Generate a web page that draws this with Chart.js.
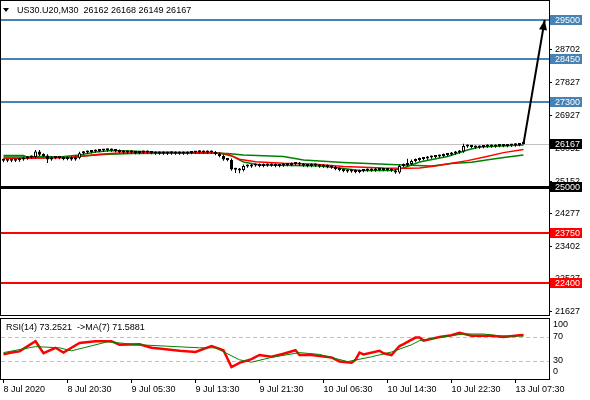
<!DOCTYPE html>
<html>
<head>
<meta charset="utf-8">
<script src="https://cdn.jsdelivr.net/npm/chart.js@4.4.1/dist/chart.umd.min.js"></script>
<style>
  html, body { margin: 0; padding: 0; background: #fff; }
  #wrap { position: relative; width: 590px; height: 400px; overflow: hidden; }
  #price { position: absolute; left: 0; top: 0; }
  #rsi { position: absolute; left: 0; top: 317px; }
</style>
</head>
<body>
<div id="wrap">
  <canvas id="price" width="590" height="317"></canvas>
  <canvas id="rsi" width="590" height="83"></canvas>
</div>
<script>
// US30.U20 M30 candles, one entry per bar (bar 0 = 8 Jul 2020 12:30)
const candleOpen = [
  25720, 25712, 25718, 25710, 25722, 25745, 25772, 25799, 25813, 25961,
  25875, 25850, 25745, 25799, 25786, 25790, 25759, 25786, 25745, 25790,
  25915, 25934, 25948, 25961, 25975, 25988, 25990, 26002, 25988, 25975,
  25948, 25934, 25948, 25934, 25921, 25934, 25948, 25934, 25921, 25907,
  25921, 25907, 25910, 25921, 25907, 25921, 25907, 25921, 25934, 25936,
  25948, 25934, 25948, 25934, 25894, 25840, 25745, 25732, 25475, 25470,
  25460, 25570, 25556, 25583, 25597, 25570, 25597, 25583, 25597, 25570,
  25583, 25610, 25597, 25624, 25637, 25610, 25583, 25570, 25597, 25583,
  25556, 25570, 25543, 25529, 25489, 25462, 25435, 25421, 25435, 25408,
  25435, 25448, 25462, 25448, 25475, 25462, 25475, 25462, 25448, 25394,
  25570, 25597, 25624, 25705, 25732, 25759, 25772, 25799, 25813, 25826,
  25840, 25867, 25880, 25907, 25934, 25961, 26110, 26096, 26083, 26069,
  26083, 26096, 26110, 26096, 26110, 26123, 26110, 26123, 26125, 26137,
  26162
];
const candleHigh = [
  25762, 25756, 25760, 25765, 25782, 25810, 25836, 25850, 25998, 26000,
  25915, 25888, 25836, 25840, 25830, 25826, 25823, 25823, 25823, 25952,
  25972, 25985, 25998, 26012, 26025, 26030, 26040, 26039, 26025, 26012,
  25985, 25985, 25985, 25971, 25971, 25985, 25985, 25971, 25958, 25958,
  25958, 25950, 25958, 25958, 25958, 25958, 25958, 25971, 25975, 25985,
  25985, 25985, 25988, 25971, 25931, 25877, 25782, 25769, 25520, 25515,
  25607, 25607, 25620, 25634, 25634, 25634, 25634, 25634, 25634, 25620,
  25647, 25647, 25661, 25674, 25674, 25647, 25620, 25634, 25634, 25620,
  25607, 25607, 25580, 25566, 25526, 25499, 25472, 25472, 25472, 25472,
  25485, 25499, 25499, 25512, 25512, 25512, 25512, 25499, 25485, 25607,
  25634, 25762, 25742, 25769, 25796, 25809, 25836, 25850, 25863, 25877,
  25904, 25917, 25944, 25971, 25998, 26170, 26147, 26133, 26120, 26120,
  26133, 26147, 26147, 26147, 26160, 26160, 26160, 26165, 26174, 26187,
  26168
];
const candleLow = [
  25670, 25668, 25672, 25675, 25685, 25708, 25735, 25760, 25776, 25838,
  25802, 25650, 25708, 25750, 25748, 25720, 25722, 25708, 25708, 25753,
  25878, 25897, 25910, 25924, 25938, 25945, 25953, 25950, 25938, 25910,
  25897, 25897, 25897, 25884, 25884, 25897, 25897, 25884, 25870, 25870,
  25870, 25868, 25873, 25870, 25870, 25870, 25870, 25884, 25895, 25899,
  25897, 25897, 25897, 25857, 25803, 25708, 25695, 25438, 25378, 25370,
  25422, 25519, 25519, 25546, 25533, 25533, 25546, 25546, 25533, 25533,
  25546, 25560, 25560, 25587, 25573, 25546, 25533, 25533, 25546, 25519,
  25519, 25506, 25492, 25452, 25425, 25398, 25384, 25384, 25371, 25371,
  25398, 25411, 25411, 25411, 25425, 25425, 25425, 25411, 25357, 25357,
  25533, 25560, 25587, 25668, 25695, 25722, 25735, 25762, 25776, 25789,
  25803, 25830, 25843, 25870, 25897, 25924, 26059, 26046, 26032, 26032,
  26046, 26059, 26059, 26059, 26073, 26073, 26073, 26085, 26088, 26100,
  26149
];
const candleClose = [
  25712, 25718, 25710, 25722, 25745, 25772, 25799, 25813, 25961, 25875,
  25840, 25745, 25799, 25786, 25790, 25759, 25786, 25745, 25786, 25915,
  25934, 25948, 25961, 25975, 25988, 25990, 26002, 25988, 25975, 25948,
  25934, 25948, 25934, 25921, 25934, 25948, 25934, 25921, 25907, 25921,
  25907, 25910, 25921, 25907, 25921, 25907, 25921, 25934, 25936, 25948,
  25934, 25948, 25934, 25894, 25840, 25745, 25732, 25475, 25470, 25448,
  25570, 25556, 25583, 25597, 25570, 25597, 25583, 25597, 25570, 25583,
  25610, 25597, 25624, 25637, 25610, 25583, 25570, 25597, 25583, 25556,
  25570, 25543, 25529, 25489, 25462, 25435, 25421, 25435, 25408, 25435,
  25448, 25462, 25448, 25475, 25462, 25475, 25462, 25448, 25394, 25570,
  25597, 25624, 25705, 25732, 25759, 25772, 25799, 25813, 25826, 25840,
  25867, 25880, 25907, 25934, 25961, 26110, 26096, 26083, 26069, 26083,
  26096, 26110, 26096, 26110, 26123, 26110, 26123, 26125, 26137, 26162,
  26167
];

// moving averages on the price pane (bar index -> price)
const fastMaBars   = [0, 4, 9, 14, 19, 23, 27, 32, 37, 44, 52, 54, 57, 60, 64, 72, 79, 84, 89, 97, 100, 104, 111, 116, 119, 130];
const fastMaValues = [25813, 25813, 25826, 25813, 25867, 25948, 25988, 25975, 25948, 25934, 25934, 25921, 25840, 25678, 25597, 25583, 25570, 25516, 25448, 25448, 25516, 25678, 25826, 26002, 26083, 26137];
const midMaBars    = [0, 7, 16, 24, 29, 35, 52, 56, 59, 63, 70, 77, 85, 95, 101, 104, 108, 112, 116, 120, 125, 130];
const midMaValues  = [25775, 25775, 25791, 25885, 25921, 25929, 25934, 25894, 25751, 25686, 25643, 25624, 25556, 25516, 25508, 25516, 25570, 25643, 25713, 25805, 25929, 26015];
const slowMaBars   = [0, 5, 6, 18, 20, 25, 32, 50, 56, 60, 70, 75, 85, 100, 107, 112, 117, 122, 126, 130];
const slowMaValues = [25853, 25853, 25805, 25805, 25840, 25880, 25907, 25921, 25907, 25867, 25822, 25732, 25664, 25597, 25570, 25637, 25669, 25750, 25813, 25867];

// horizontal levels and the projected arrow
const levelValues = [29500, 28450, 27300, 25000, 23750, 22400];
const levelColors = ['#4682b4', '#4682b4', '#4682b4', '#000000', '#ff0000', '#ff0000'];
const levelWidths = [2, 2, 2, 3, 2, 2];
const lastClose = 26167;
const arrowBars = [130, 135.3];
const arrowValues = [26167, 29510];

// price axis tick values
const priceTicks = [28702, 27827, 26927, 26052, 25152, 24277, 23402, 22527, 21627];

// RSI(14) and its MA(7)
const rsiBars   = [0, 2, 4, 8, 10, 13, 15, 19, 23, 27, 29, 34, 37, 40, 44, 48, 52, 55, 57, 59, 62, 64, 67, 70, 73, 74, 77, 82, 84, 87, 88, 89, 90, 94, 95, 97, 99, 100, 103, 104, 105, 109, 112, 114, 117, 122, 125, 129, 130];
const rsiValues = [41, 44, 46, 63, 43, 52, 44, 60, 63, 63, 57, 58, 52, 50, 47, 45, 55, 48, 20, 27, 33, 40, 37, 42, 48, 40, 40, 36, 29, 27, 32, 44, 41, 47, 43, 40, 55, 58, 69, 69, 64, 70, 73, 77, 72, 72, 70, 73, 73.25];
const rsiMaBars   = [0, 8, 14, 17, 26, 34, 49, 53, 59, 62, 67, 74, 79, 86, 92, 97, 102, 104, 109, 115, 120, 124, 129, 130];
const rsiMaValues = [44, 54, 52, 47, 62, 57, 52, 52, 32, 28, 36, 44, 41, 29, 37, 45, 57, 64, 69.5, 75, 75, 72, 71.5, 71.59];
const rsiLevels = [70, 30];
const rsiTickSpots  = [90, 70, 30, 12];
const rsiTickLabels = ['100', '70', '30', '0'];

// time axis
const timeBars   = [0, 16, 32, 48, 64, 80, 96, 112, 128];
const timeLabels = ['8 Jul 2020', '8 Jul 20:30', '9 Jul 05:30', '9 Jul 13:30', '9 Jul 21:30',
                    '10 Jul 06:30', '10 Jul 14:30', '10 Jul 22:30', '13 Jul 07:30'];

const headerText = 'US30.U20,M30  26162 26168 26149 26167';
const rsiHeaderText = 'RSI(14) 73.2521  ->MA(7) 71.5881';

const FONT_FAMILY = "'Liberation Sans', Arial, sans-serif";
Chart.defaults.font.family = FONT_FAMILY;
Chart.defaults.font.size = 9;
Chart.defaults.color = '#000';

const X_MIN = -0.625;
const X_MAX = 136.375;

const pts = (xs, ys) => xs.map((x, k) => ({ x, y: ys[k] }));
const barIdx = candleOpen.map((_, i) => i);

function lineSet(label, xs, ys, color, width, order) {
    return {
        type: 'line', label, data: pts(xs, ys),
        borderColor: color, borderWidth: width,
        pointRadius: 0, tension: 0, order,
    };
}

const priceDecor = {
    id: 'priceDecor',
    beforeDatasetsDraw(chart) {
        const { ctx, chartArea: ca, scales: { y } } = chart;
        ctx.save();
        const py = Math.round(y.getPixelForValue(lastClose)) + 0.5;
        ctx.strokeStyle = '#c0c0c0';
        ctx.lineWidth = 1;
        ctx.beginPath(); ctx.moveTo(ca.left, py); ctx.lineTo(ca.right, py); ctx.stroke();
        levelValues.forEach((v, k) => {
            let yy = Math.round(y.getPixelForValue(v));
            if (levelWidths[k] % 2) yy += 0.5;
            ctx.strokeStyle = levelColors[k];
            ctx.lineWidth = levelWidths[k];
            ctx.beginPath(); ctx.moveTo(ca.left, yy); ctx.lineTo(ca.right, yy); ctx.stroke();
        });
        ctx.restore();
    },
    afterDatasetsDraw(chart) {
        // arrow head at the end of the arrow line
        const ctx = chart.ctx;
        const pts2 = chart.getDatasetMeta(0).data;
        const a = pts2[0], b = pts2[1];
        const ang = Math.atan2(b.y - a.y, b.x - a.x);
        const len = 10, half = 4;
        ctx.save();
        ctx.fillStyle = '#000';
        ctx.beginPath();
        ctx.moveTo(b.x, b.y);
        ctx.lineTo(b.x - len * Math.cos(ang) + half * Math.sin(ang), b.y - len * Math.sin(ang) - half * Math.cos(ang));
        ctx.lineTo(b.x - len * Math.cos(ang) - half * Math.sin(ang), b.y - len * Math.sin(ang) + half * Math.cos(ang));
        ctx.closePath();
        ctx.fill();
        ctx.restore();
    },
    afterDraw(chart) {
        const { ctx, chartArea: ca, scales: { y } } = chart;
        ctx.save();
        // frame
        ctx.strokeStyle = '#000';
        ctx.lineWidth = 1;
        ctx.strokeRect(0.5, 0.5, ca.right, ca.bottom);
        // price tags on the axis
        ctx.font = '9px ' + FONT_FAMILY;
        ctx.textBaseline = 'middle';
        ctx.textAlign = 'left';
        const tag = (v, color) => {
            const yy = Math.round(y.getPixelForValue(v));
            ctx.fillStyle = color;
            ctx.fillRect(ca.right + 1, yy - 5, 32, 10);
            ctx.fillStyle = '#fff';
            ctx.fillText(String(v), ca.right + 6, yy + 0.5);
        };
        levelValues.forEach((v, k) => tag(v, levelColors[k]));
        tag(lastClose, '#000');
        // header
        ctx.fillStyle = '#000';
        ctx.beginPath(); ctx.moveTo(3, 8); ctx.lineTo(9, 8); ctx.lineTo(6, 12); ctx.closePath(); ctx.fill();
        ctx.fillText(headerText, 17, 10.5);
        ctx.restore();
    },
};

new Chart(document.getElementById('price'), {
    type: 'bar',
    data: {
        datasets: [
            lineSet('arrow', arrowBars, arrowValues, '#000', 2, -1),
            lineSet('fast MA', fastMaBars, fastMaValues, '#008000', 1.5, 5),
            lineSet('mid MA', midMaBars, midMaValues, '#ff0000', 1.5, 4),
            lineSet('slow MA', slowMaBars, slowMaValues, '#008000', 1.5, 6),
            {
                type: 'bar', label: 'body',
                data: barIdx.map(i => ({ x: i, y: [candleOpen[i], candleClose[i]] })),
                backgroundColor: barIdx.map(i => candleClose[i] >= candleOpen[i] ? '#ffffff' : '#000000'),
                borderColor: '#000', borderWidth: 1, borderSkipped: false,
                barThickness: 3, minBarLength: 2, grouped: false, inflateAmount: 0, order: 1,
            },
            {
                type: 'bar', label: 'wick',
                data: barIdx.map(i => ({ x: i, y: [candleLow[i], candleHigh[i]] })),
                backgroundColor: '#000', borderWidth: 0,
                barThickness: 1, grouped: false, inflateAmount: 0, order: 2,
            },
        ],
    },
    options: {
        responsive: false,
        animation: false,
        events: [],
        layout: { padding: { top: 1, left: 1, right: 0, bottom: 2 } },
        plugins: { legend: { display: false }, tooltip: { enabled: false } },
        scales: {
            x: { type: 'linear', display: false, min: X_MIN, max: X_MAX, offset: false },
            y: {
                position: 'right', min: 21545, max: 30023,
                afterBuildTicks: s => { s.ticks = priceTicks.map(v => ({ value: v })); },
                afterFit: s => { s.width = 41; s.paddingTop = 0; s.paddingBottom = 0; },
                ticks: { padding: 3, callback: v => String(v) },
                grid: { drawOnChartArea: false, drawTicks: true, tickLength: 3, color: '#000' },
                border: { display: true, color: '#000' },
            },
        },
    },
    plugins: [priceDecor],
});

const rsiDecor = {
    id: 'rsiDecor',
    beforeDatasetsDraw(chart) {
        const { ctx, chartArea: ca, scales: { y } } = chart;
        ctx.save();
        ctx.strokeStyle = '#c0c0c0';
        ctx.lineWidth = 1;
        ctx.setLineDash([4, 3]);
        rsiLevels.forEach(v => {
            const yy = Math.round(y.getPixelForValue(v)) + 0.5;
            ctx.beginPath(); ctx.moveTo(ca.left, yy); ctx.lineTo(ca.right, yy); ctx.stroke();
        });
        ctx.restore();
    },
    afterDraw(chart) {
        const { ctx, chartArea: ca } = chart;
        ctx.save();
        ctx.strokeStyle = '#000';
        ctx.lineWidth = 1;
        ctx.strokeRect(0.5, ca.top - 0.5, ca.right, ca.bottom - ca.top + 1);
        ctx.fillStyle = '#000';
        ctx.font = '9px ' + FONT_FAMILY;
        ctx.textBaseline = 'middle';
        ctx.fillText(rsiHeaderText, 6, 10.5);
        ctx.restore();
    },
};

new Chart(document.getElementById('rsi'), {
    type: 'line',
    data: {
        datasets: [
            lineSet('MA(7)', rsiMaBars, rsiMaValues, '#008000', 1, 0),
            lineSet('RSI(14)', rsiBars, rsiValues, '#ff0000', 2.5, 1),
        ],
    },
    options: {
        responsive: false,
        animation: false,
        events: [],
        layout: { padding: { top: 2, left: 1, right: 0, bottom: 0 } },
        plugins: { legend: { display: false }, tooltip: { enabled: false } },
        scales: {
            x: {
                type: 'linear', min: X_MIN, max: X_MAX, offset: false,
                afterBuildTicks: s => { s.ticks = timeBars.map(v => ({ value: v })); },
                afterFit: s => { s.height = 21; s.paddingLeft = 0; s.paddingRight = 0; },
                ticks: { autoSkip: false, maxRotation: 0, align: 'start', padding: 1,
                         callback: (v, i) => timeLabels[i] },
                grid: { drawOnChartArea: false, drawTicks: true, tickLength: 4, color: '#000' },
                border: { display: true, color: '#000' },
            },
            y: {
                position: 'right', min: 0, max: 100,
                afterBuildTicks: s => { s.ticks = rsiTickSpots.map(v => ({ value: v })); },
                afterFit: s => { s.width = 41; s.paddingTop = 0; s.paddingBottom = 0; },
                ticks: { padding: 4, callback: (v, i) => rsiTickLabels[i] },
                grid: { drawOnChartArea: false, drawTicks: false },
                border: { display: true, color: '#000' },
            },
        },
    },
    plugins: [rsiDecor],
});
</script>
</body>
</html>
